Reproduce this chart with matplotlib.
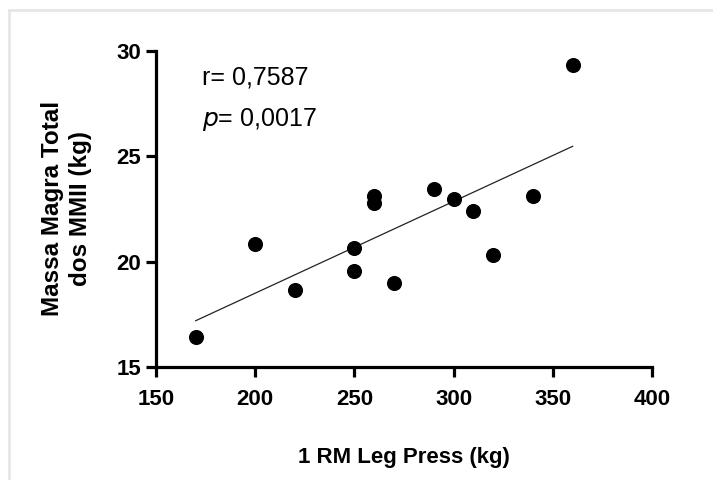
import matplotlib.pyplot as plt
import numpy as np
from matplotlib.lines import Line2D

plt.rcParams['font.family'] = ['Liberation Sans', 'DejaVu Sans']

# 1RM leg press (kg) vs total lean mass of lower limbs (kg)
leg_press = [170, 200, 220, 250, 250, 260, 260, 270, 290, 300, 310, 320, 340, 360]
lean_mass = [16.41, 20.82, 18.66, 20.63, 19.56, 23.10, 22.79, 18.97, 23.46, 22.99, 22.42, 20.33, 23.10, 29.31]

x_ticks = [150, 200, 250, 300, 350, 400]
y_ticks = [15, 20, 25, 30]

fig = plt.figure(figsize=(7.13, 4.80), dpi=100)
ax = fig.add_axes([0.2188, 0.2354, 0.6957, 0.659])

ax.scatter(leg_press, lean_mass, s=118, color='black', zorder=3, linewidths=0)

# linear fit line over data range
slope, icpt = np.polyfit(leg_press, lean_mass, 1)
xs = np.array([min(leg_press), max(leg_press)])
ax.plot(xs, slope * xs + icpt, color='#222222', lw=0.9)

ax.text(173, 28.72, 'r= 0,7587', fontsize=18, va='center', ha='left')
ax.text(173, 26.72, '$\\it{p}$= 0,0017', fontsize=18, va='center', ha='left')

ax.set_xlim(150, 400)
ax.set_ylim(15, 30)
ax.set_xticks(x_ticks)
ax.set_yticks(y_ticks)
for sp in ['top', 'right']:
    ax.spines[sp].set_visible(False)
for sp in ['left', 'bottom']:
    ax.spines[sp].set_linewidth(2.3)
ax.tick_params(direction='out', length=7.5, width=2.3, labelsize=16)
ax.tick_params(axis='x', pad=8)
ax.tick_params(axis='y', pad=3)
for lab in ax.get_xticklabels() + ax.get_yticklabels():
    lab.set_fontweight('bold')

ax.set_xlabel('1 RM Leg Press (kg)', fontsize=16, fontweight='bold', labelpad=27)
ax.set_ylabel('Massa Magra Total\ndos MMII (kg)', fontsize=17.5, fontweight='bold', labelpad=18,
              linespacing=1.25)

# faint frame edges along top and left of the image
fig.add_artist(Line2D([9/713, 1], [1 - 10/480, 1 - 10/480], transform=fig.transFigure, color='#e6e6e6', lw=2))
fig.add_artist(Line2D([9/713, 9/713], [0, 1 - 10/480], transform=fig.transFigure, color='#e6e6e6', lw=2))

fig.savefig('out.png', dpi=100)
